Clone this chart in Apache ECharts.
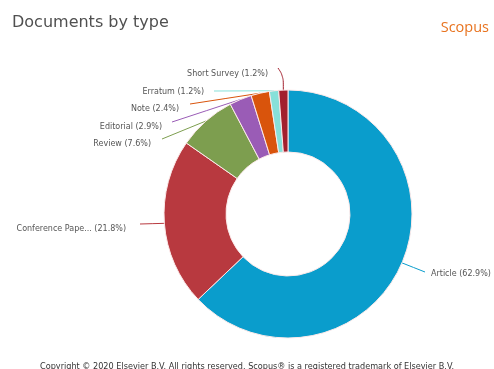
<!DOCTYPE html>
<html>
<head>
<meta charset="utf-8">
<script src="https://cdn.jsdelivr.net/npm/echarts@6/dist/echarts.min.js"></script>
<style>
  html, body { margin: 0; padding: 0; background: #fff; }
  #chart { width: 494px; height: 369px; }
</style>
</head>
<body>
<div id="chart"></div>
<script>
// Document types and their shares (%)
const docTypes = ['Article', 'Conference Pape...', 'Review', 'Editorial', 'Note', 'Erratum', 'Short Survey'];
const docShares = [62.9, 21.8, 7.6, 2.9, 2.4, 1.2, 1.2];
const sliceColors = ['#0a9dcc', '#b8393f', '#7d9e4f', '#9a5cb6', '#d9540c', '#87e0d9', '#a21f2d'];

// Label anchor (x, y, alignment) and where its connector stops (x, y)
const labelSpots = [
  [431, 274, 'left',  425, 272],
  [126, 229, 'right', 140, 224],
  [151, 144, 'right', 162, 139],
  [162, 127, 'right', 172, 122],
  [179, 109, 'right', 190, 104],
  [204, 92,  'right', 214, 91],
  [268, 74,  'right', 278, 68]
];

const chart = echarts.init(document.getElementById('chart'), null, { renderer: 'canvas' });

chart.setOption({
  animation: false,
  title: [
    {
      text: 'Documents by type',
      left: 7, top: 10,
      textStyle: { fontFamily: 'DejaVu Sans', fontSize: 16, fontWeight: 'normal', color: '#505050' }
    },
    {
      text: 'Scopus',
      right: 0, top: 15,
      textStyle: { fontFamily: 'Open Sans', fontSize: 14.5, fontWeight: 'normal', color: '#e8731f' }
    },
    {
      text: 'Copyright © 2020 Elsevier B.V. All rights reserved. Scopus® is a registered trademark of Elsevier B.V.',
      left: 'center', top: 358,
      textStyle: { fontFamily: 'DejaVu Sans', fontSize: 8.15, fontWeight: 'normal', color: '#333' }
    }
  ],
  series: [{
    type: 'pie',
    center: [288, 214],
    radius: [62, 124],
    startAngle: 90,
    clockwise: true,
    itemStyle: { borderColor: '#fbe9e9', borderWidth: 1 },
    label: {
      show: true,
      fontFamily: 'DejaVu Sans',
      fontSize: 8,
      color: '#555',
      overflow: 'none',
      formatter: p => p.name + ' (' + p.value.toFixed(1) + '%)'
    },
    labelLine: { show: true, length: 12, length2: 22, lineStyle: { width: 1 } },
    labelLayout: p => {
      const s = labelSpots[p.dataIndex];
      const start = p.labelLinePoints ? p.labelLinePoints[0] : [s[3], s[4]];
      const pts = p.dataIndex === docTypes.length - 1
        ? [start, [start[0], s[4] + 8], [s[3], s[4]]]
        : [start, [(start[0] + s[3]) / 2, (start[1] + s[4]) / 2], [s[3], s[4]]];
      return { x: s[0], y: s[1], align: s[2], verticalAlign: 'middle', labelLinePoints: pts };
    },
    data: docTypes.map((name, i) => ({
      name: name,
      value: docShares[i],
      itemStyle: { color: sliceColors[i] },
      labelLine: i === docTypes.length - 1 ? { smooth: 0.4 } : { smooth: false }
    }))
  }]
});
</script>
</body>
</html>
